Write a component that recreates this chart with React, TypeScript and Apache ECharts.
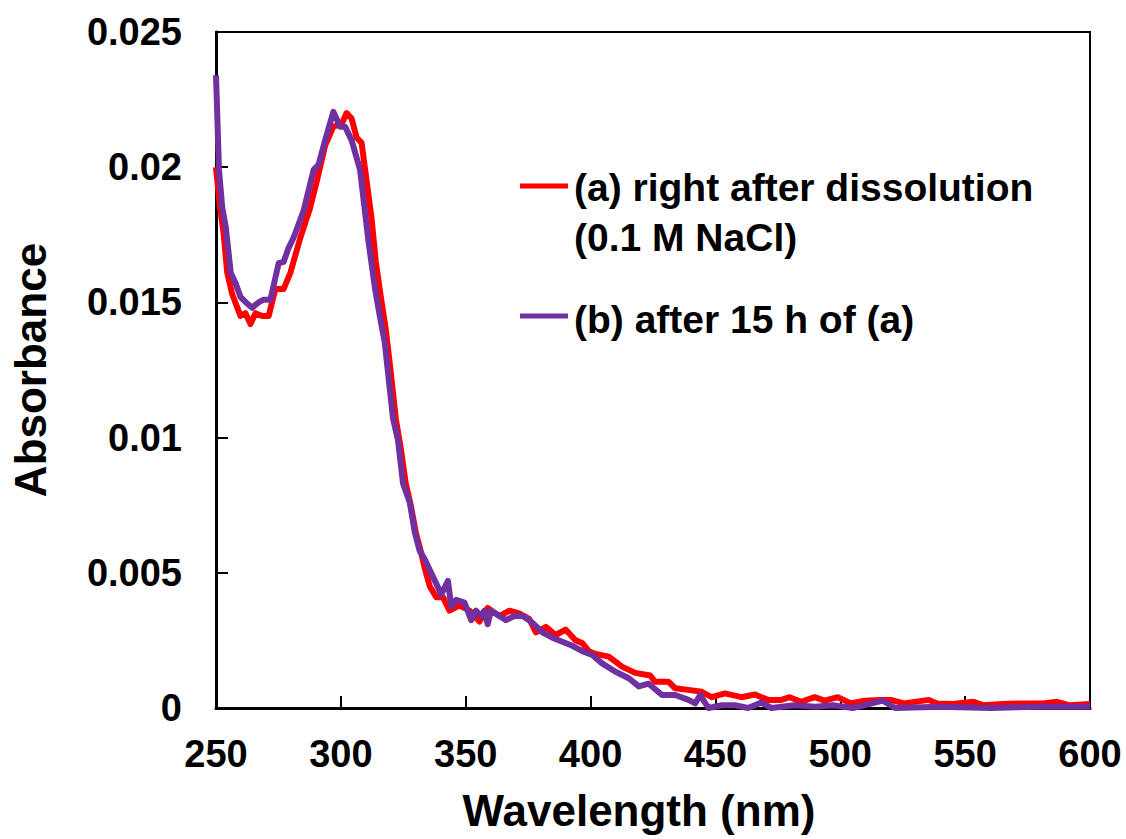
import React, { useEffect, useRef } from "react";
import * as echarts from "echarts";

const xTicks = [250, 300, 350, 400, 450, 500, 550, 600];
const yTicks = [0, 0.005, 0.01, 0.015, 0.02, 0.025];

const seriesNames = ["(a) right after dissolution\n(0.1 M NaCl)", "(b) after 15 h of (a)"];

const redWl = [250, 251.5, 253, 254.5, 256.5, 259.8, 261.8, 263.8, 265.8, 268.5, 271.1, 273.8, 277.1, 279.8, 283.8, 287.7, 290.4, 293.7, 297.0, 300.3, 302.3, 304.3, 306.3, 308.3, 310.3, 312.3, 314, 316, 318, 320, 322, 324, 326, 328, 330, 332, 333.5, 335.6, 338.2, 340.9, 343.5, 347.5, 351.5, 355.5, 358.8, 363.5, 367.5, 371.4, 375.4, 378.1, 382.1, 386.0, 390.0, 394.0, 396.7, 399.3, 402.0, 407.3, 412.6, 417.9, 423.9, 425.9, 431.2, 433.9, 439.2, 444.5, 448.5, 453.8, 460.4, 465.8, 471.1, 476.4, 479.7, 484.4, 489.7, 493.7, 499.0, 504.3, 509.6, 516.2, 520.2, 525.5, 535.5, 538.8, 545, 553.4, 557.4, 565, 570.7, 581.3, 586.7, 592, 600];
const redAbs = [0.0200, 0.0186, 0.0176, 0.0161, 0.0153, 0.0145, 0.0146, 0.0142, 0.0146, 0.0145, 0.0145, 0.0155, 0.0155, 0.0161, 0.0174, 0.0185, 0.0195, 0.0208, 0.0215, 0.0216, 0.0220, 0.0218, 0.0211, 0.0209, 0.0195, 0.0181, 0.0165, 0.0152, 0.0140, 0.0124, 0.0107, 0.0096, 0.0083, 0.0075, 0.0065, 0.0058, 0.0052, 0.0045, 0.0041, 0.0041, 0.0036, 0.0038, 0.0036, 0.0032, 0.0037, 0.0034, 0.0036, 0.0035, 0.0033, 0.0028, 0.0030, 0.0027, 0.0029, 0.0025, 0.0024, 0.0021, 0.0020, 0.0019, 0.00153, 0.0013, 0.0012, 0.00097, 0.00097, 0.00073, 0.00067, 0.0006, 0.0004, 0.00054, 0.0004, 0.0005, 0.0003, 0.0003, 0.0004, 0.00023, 0.0004, 0.00027, 0.0004, 0.00017, 0.00027, 0.0003, 0.0003, 0.00017, 0.0003, 0.00017, 0.00015, 0.00023, 0.0001, 0.00015, 0.00017, 0.00017, 0.00023, 0.0001, 0.00015];

const purpleWl = [250, 251.2, 252.5, 253.9, 255.9, 257.9, 259.8, 262, 264.5, 267, 269.1, 271.8, 275.1, 277.1, 279, 281.1, 285.1, 289.1, 291.1, 293.7, 297.0, 299.7, 301.7, 304.3, 307.7, 311.0, 313.7, 315.6, 317.6, 319.6, 320.9, 322.9, 324.9, 327.6, 329.6, 331.6, 333.6, 335.6, 338.2, 340.2, 342.9, 344.2, 346.2, 349.5, 352.2, 354.1, 356.1, 357.5, 358.8, 360.1, 363.5, 366.1, 369.4, 372.8, 376.1, 380.7, 384.7, 388.7, 392.7, 396.7, 400.7, 404.6, 410.0, 415.3, 419.3, 423.3, 428.6, 433.9, 439.2, 441.9, 443.9, 447.2, 452.6, 457.8, 463.1, 468.4, 472.4, 481.6, 490, 497, 505, 517, 522, 540, 560, 580, 600];
const purpleAbs = [0.0234, 0.0199, 0.0185, 0.0178, 0.0161, 0.0157, 0.0152, 0.0150, 0.0148, 0.0150, 0.0151, 0.0151, 0.01645, 0.0165, 0.0170, 0.0174, 0.0184, 0.0199, 0.0201, 0.0210, 0.02205, 0.0215, 0.0215, 0.0210, 0.0199, 0.0173, 0.0155, 0.0145, 0.0135, 0.0118, 0.0107, 0.0099, 0.0083, 0.0076, 0.0065, 0.0058, 0.0055, 0.0051, 0.0046, 0.0042, 0.0047, 0.00375, 0.0040, 0.0039, 0.00325, 0.0036, 0.0034, 0.0036, 0.0031, 0.0036, 0.0034, 0.00325, 0.0034, 0.0034, 0.0032, 0.0028, 0.0026, 0.00245, 0.0023, 0.0021, 0.00196, 0.00165, 0.00134, 0.0011, 0.0008, 0.0009, 0.00048, 0.00048, 0.0003, 0.00017, 0.00048, 0.0, 0.0001, 0.0001, 0.0, 0.0002, 0.0, 0.0001, 0.00005, 0.0001, 0.0, 0.00027, 0.0, 0.00005, 0.0, 0.00005, 0.00005];

const FONT = '"Liberation Sans", Arial, Helvetica, sans-serif';
const RED = "#FF0000";
const PURPLE = "#7030A0";

export default function App() {
  const ref = useRef<HTMLDivElement>(null);
  useEffect(() => {
    if (!ref.current) return;
    const chart = echarts.init(ref.current, null, { renderer: "svg" });
    const redData = redWl.map((w, i) => [w, redAbs[i]]);
    const purpleData = purpleWl.map((w, i) => [w, purpleAbs[i]]);
    const labelStyle = { color: "#000", fontFamily: FONT, fontWeight: "bold" as const, fontSize: 38 };
    chart.setOption({
      animation: false,
      backgroundColor: "#fff",
      grid: { left: 212, top: 32, right: 36, bottom: 131, show: true, borderColor: "#000", borderWidth: 2, backgroundColor: "transparent" },
      xAxis: {
        type: "value",
        min: xTicks[0],
        max: xTicks[xTicks.length - 1],
        interval: 50,
        name: "Wavelength (nm)",
        nameLocation: "middle",
        nameGap: 80,
        nameTextStyle: { color: "#000", fontFamily: FONT, fontWeight: "bold", fontSize: 44, padding: [0, 28, 0, 0] },
        axisLine: { show: true, lineStyle: { color: "#000", width: 3 } },
        axisTick: { show: true, inside: true, length: 12, lineStyle: { color: "#000", width: 2 } },
        axisLabel: { ...labelStyle, margin: 27 },
        splitLine: { show: false },
      },
      yAxis: {
        type: "value",
        min: yTicks[0],
        max: yTicks[yTicks.length - 1],
        interval: 0.005,
        name: "Absorbance",
        nameLocation: "middle",
        nameGap: 164,
        nameTextStyle: { color: "#000", fontFamily: FONT, fontWeight: "bold", fontSize: 44 },
        axisLine: { show: true, lineStyle: { color: "#000", width: 3 } },
        axisTick: { show: true, inside: true, length: 12, lineStyle: { color: "#000", width: 2 } },
        axisLabel: {
          ...labelStyle,
          margin: 34,
          formatter: (v: number) => (v === 0 ? "0" : String(+v.toFixed(3))),
        },
        splitLine: { show: false },
      },
      series: [
        {
          name: seriesNames[0],
          type: "line",
          data: redData,
          showSymbol: false,
          symbol: "none",
          lineStyle: { color: RED, width: 6, join: "round" },
          itemStyle: { color: RED },
        },
        {
          name: seriesNames[1],
          type: "line",
          data: purpleData,
          showSymbol: false,
          symbol: "none",
          lineStyle: { color: PURPLE, width: 6, join: "round" },
          itemStyle: { color: PURPLE },
        },
      ],
      graphic: [
        { type: "line", shape: { x1: 520, y1: 186, x2: 568, y2: 186 }, style: { stroke: RED, lineWidth: 5 } },
        { type: "text", left: 574, top: 168, style: { text: "(a) right after dissolution", font: `bold 39px ${FONT}`, fill: "#000" } },
        { type: "text", left: 574, top: 218, style: { text: "(0.1 M NaCl)", font: `bold 39px ${FONT}`, fill: "#000" } },
        { type: "line", shape: { x1: 520, y1: 316, x2: 568, y2: 316 }, style: { stroke: PURPLE, lineWidth: 5 } },
        { type: "text", left: 574, top: 300, style: { text: "(b) after 15 h of (a)", font: `bold 39px ${FONT}`, fill: "#000" } },
      ],
    });
    return () => chart.dispose();
  }, []);
  return <div ref={ref} style={{ position: "absolute", left: 0, top: 0, width: 1126, height: 839 }} />;
}
